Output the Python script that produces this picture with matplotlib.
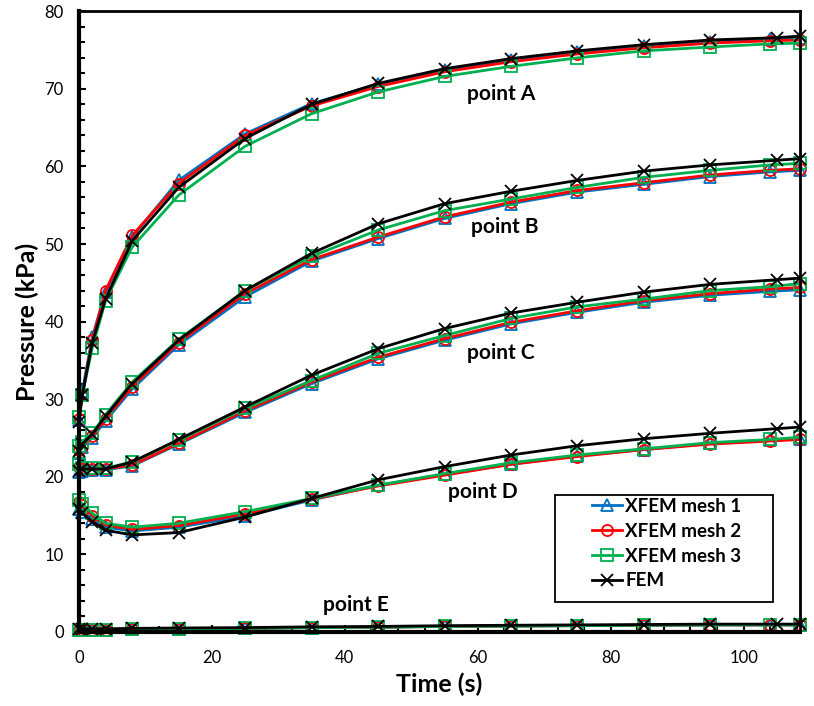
import matplotlib.pyplot as plt
from matplotlib.ticker import MultipleLocator
from matplotlib.patches import Rectangle

plt.rcParams['font.family'] = ['Lato', 'DejaVu Sans']

# time steps (s)
t_xfem = [0, 0.5, 2, 4, 8, 15, 25, 35, 45, 55, 65, 75, 85, 95, 104, 108.5]
t_fem = [0, 0.5, 2, 4, 8, 15, 25, 35, 45, 55, 65, 75, 85, 95, 105, 108.5]

# pressure (kPa) at points A..E
mesh1_A = [27.3, 31.0, 38.0, 43.8, 50.9, 58.2, 64.2, 68.1, 70.6, 72.4, 73.7, 74.7, 75.5, 76.1, 76.4, 76.5]
mesh2_A = [27.5, 30.5, 37.6, 44.0, 51.1, 57.8, 64.0, 67.8, 70.3, 72.2, 73.5, 74.5, 75.3, 75.9, 76.2, 76.3]
mesh3_A = [27.7, 30.5, 36.6, 42.7, 49.6, 56.3, 62.6, 66.8, 69.6, 71.6, 72.9, 74.0, 74.9, 75.4, 75.8, 75.9]
fem_A = [27.0, 30.5, 37.3, 42.9, 50.4, 57.3, 63.6, 68.0, 70.7, 72.6, 73.9, 74.9, 75.7, 76.3, 76.6, 76.8]

mesh1_B = [23.0, 23.8, 25.0, 27.2, 31.3, 37.0, 43.2, 47.8, 50.7, 53.3, 55.2, 56.7, 57.7, 58.7, 59.3, 59.5]
mesh2_B = [23.5, 24.0, 25.2, 27.5, 31.6, 37.3, 43.6, 48.0, 50.9, 53.5, 55.4, 56.9, 57.9, 58.9, 59.5, 59.7]
mesh3_B = [24.0, 24.5, 25.6, 28.0, 32.2, 37.7, 44.0, 48.4, 51.8, 54.3, 55.8, 57.3, 58.6, 59.5, 60.2, 60.4]
fem_B = [23.3, 24.2, 25.5, 27.8, 32.0, 37.6, 44.0, 48.8, 52.6, 55.2, 56.8, 58.2, 59.4, 60.2, 60.8, 61.0]

mesh1_C = [20.6, 20.8, 20.9, 20.9, 21.4, 24.2, 28.3, 32.0, 35.2, 37.6, 39.7, 41.2, 42.5, 43.4, 43.9, 44.1]
mesh2_C = [21.3, 21.0, 21.0, 21.0, 21.5, 24.3, 28.5, 32.2, 35.4, 37.8, 39.9, 41.4, 42.7, 43.6, 44.2, 44.4]
mesh3_C = [21.6, 21.1, 21.1, 21.1, 21.9, 24.7, 28.8, 32.4, 35.9, 38.2, 40.4, 41.9, 42.9, 44.0, 44.5, 44.9]
fem_C = [20.8, 21.0, 21.0, 21.0, 21.9, 24.8, 29.0, 33.1, 36.5, 39.1, 41.1, 42.5, 43.8, 44.8, 45.4, 45.6]

mesh1_D = [15.8, 15.5, 14.6, 13.5, 13.0, 13.5, 14.9, 17.0, 18.9, 20.3, 21.6, 22.7, 23.5, 24.3, 24.7, 24.9]
mesh2_D = [16.8, 16.3, 15.0, 13.8, 13.2, 13.7, 15.2, 17.1, 18.8, 20.2, 21.6, 22.6, 23.5, 24.2, 24.6, 24.8]
mesh3_D = [17.0, 16.5, 15.3, 14.0, 13.5, 14.0, 15.5, 17.2, 18.9, 20.4, 21.8, 22.8, 23.6, 24.4, 24.8, 25.1]
fem_D = [15.8, 15.3, 14.2, 13.1, 12.5, 12.8, 14.8, 17.2, 19.6, 21.3, 22.8, 24.0, 24.9, 25.6, 26.2, 26.4]

mesh_E = [0.3, 0.3, 0.3, 0.3, 0.35, 0.4, 0.45, 0.55, 0.6, 0.7, 0.75, 0.8, 0.85, 0.9, 0.9, 0.9]
fem_E = [0.4, 0.4, 0.4, 0.4, 0.45, 0.5, 0.55, 0.65, 0.7, 0.8, 0.85, 0.9, 0.95, 1.0, 1.0, 1.0]

labels = ['point A', 'point B', 'point C', 'point D', 'point E']
label_x = [63.5, 64.1, 63.5, 60.8, 41.7]
label_y = [69.3, 52.2, 36.0, 18.0, 3.5]

series = [
    ('XFEM mesh 1', '#0070C0', '^', t_xfem, [mesh1_A, mesh1_B, mesh1_C, mesh1_D, mesh_E]),
    ('XFEM mesh 2', '#FF0000', 'o', t_xfem, [mesh2_A, mesh2_B, mesh2_C, mesh2_D, mesh_E]),
    ('XFEM mesh 3', '#00B050', 's', t_xfem, [mesh3_A, mesh3_B, mesh3_C, mesh3_D, mesh_E]),
    ('FEM', 'black', 'x', t_fem, [fem_A, fem_B, fem_C, fem_D, fem_E]),
]

fig = plt.figure(figsize=(8.14, 7.06), dpi=100)
ax = fig.add_axes([0.097, 0.105, 0.886, 0.879])

for name, color, marker, t, curves in series:
    for i, p in enumerate(curves):
        ax.plot(t, p, color=color, lw=2.0, marker=marker, ms=8,
                mfc='none', mew=1.3, clip_on=False,
                label=name if i == 0 else None)

for txt, x, y in zip(labels, label_x, label_y):
    ax.text(x, y, txt, ha='center', va='center', fontsize=15, fontweight='bold')

ax.set_xlim(0, 108.5)
ax.set_ylim(0, 80)
ax.xaxis.set_major_locator(MultipleLocator(20))
ax.xaxis.set_minor_locator(MultipleLocator(4))
ax.yaxis.set_major_locator(MultipleLocator(10))
ax.yaxis.set_minor_locator(MultipleLocator(2))
ax.tick_params(which='both', direction='in', width=1.5, labelsize=12, top=False, right=False)
ax.tick_params(which='major', length=5)
ax.tick_params(which='minor', length=4)
ax.tick_params(axis='x', which='major', pad=13)
ax.tick_params(axis='y', which='major', pad=11)

ax.spines['left'].set_linewidth(3)
ax.spines['bottom'].set_linewidth(3)
ax.spines['top'].set_linewidth(2)
ax.spines['right'].set_linewidth(2)

ax.set_xlabel('Time (s)', fontsize=18, fontweight='bold', labelpad=5)
ax.set_ylabel('Pressure (kPa)', fontsize=18, fontweight='bold', labelpad=4)

# legend box drawn separately (wide side padding like the original)
box = Rectangle((0.66, 0.048), 0.303, 0.172, transform=ax.transAxes,
                facecolor='white', edgecolor='black', lw=1.3, zorder=4)
ax.add_patch(box)
leg = ax.legend(loc='upper left', bbox_to_anchor=(0.711, 0.216),
                prop={'weight': 'bold', 'size': 13.5}, frameon=False,
                handlelength=1.6, handletextpad=0.2, labelspacing=0.42,
                borderpad=0, borderaxespad=0)
leg.set_zorder(5)

plt.savefig('out.png', dpi=100)
